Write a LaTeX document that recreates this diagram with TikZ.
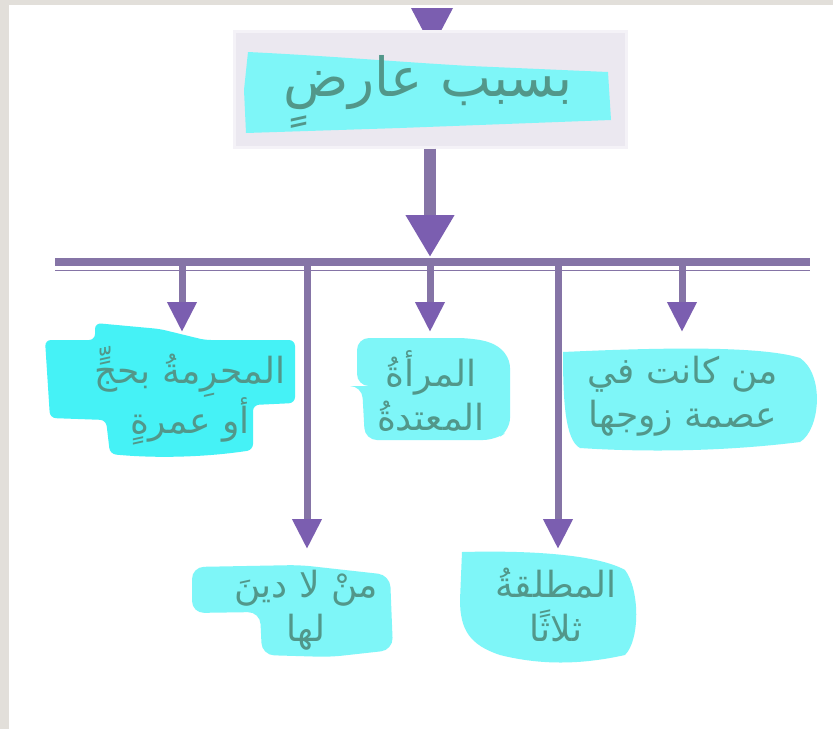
\documentclass[tikz,border=0pt]{standalone}
\usepackage{fontspec}
\usetikzlibrary{arrows.meta}
\TeXXeTstate=1
\newfontfamily\arabicfont[Script=Arabic]{DejaVu Sans}
\definecolor{bordergray}{HTML}{E2DFDA}
\definecolor{barcol}{HTML}{8574A6}
\definecolor{headcol}{HTML}{7B5EB0}
\definecolor{boxfill}{HTML}{EBE8F0}
\definecolor{boxedge}{HTML}{F4F2F7}
\definecolor{hl}{HTML}{7EF6F8}
\definecolor{hlstrong}{HTML}{45F2F6}
\definecolor{txt}{HTML}{52978A}
\tikzset{
  label/.style={font=\arabicfont\fontsize{36}{44}\selectfont, text=txt, align=center, inner sep=0pt},
  shortarrow/.style={draw=barcol, line width=7pt, -{Triangle[width=28pt,length=30pt,color=headcol]}},
  mainarrow/.style={draw=barcol, line width=12pt, -{Triangle[width=46pt,length=42pt,color=headcol]}},
}
\begin{document}
\begin{tikzpicture}[x=1pt,y=-1pt]
\useasboundingbox (0,0) rectangle (833,729);
\fill[white] (0,0) rectangle (833,729);
% page border
\fill[bordergray] (0,0) rectangle (833,5);
\fill[bordergray] (0,0) rectangle (9,729);

% top incoming arrow
\fill[headcol] (411,8) -- (453,8) -- (432,48) -- cycle;

% top box
\node[draw=boxedge, fill=boxfill, line width=3pt, minimum width=392pt, minimum height=116pt, inner sep=0pt] (top) at (430,89) {};
\fill[hl] (248,52) .. controls (330,56) and (400,62) .. (470,66) -- (608,72) -- (611,120) -- (400,128) -- (246,133) -- (244,90) -- cycle;
\node[label, font=\arabicfont\fontsize{54}{60}\selectfont] (toptext) at (428,92) {\beginR بسبب عارضٍ\endR};

% bar
\coordinate (barL) at (55,262);
\coordinate (barR) at (810,262);
\draw[barcol, line width=8pt] (barL) -- (barR);
\draw[barcol, line width=1.5pt] (55,270.5) -- (810,270.5);

% main arrow
\coordinate (mainend) at (430,257);
\draw[mainarrow] (top.south) -- (mainend);

% branch points
\coordinate (b1) at (182,266);
\coordinate (b2) at (307,266);
\coordinate (b3) at (430,266);
\coordinate (b4) at (558,266);
\coordinate (b5) at (682,266);
\coordinate (e1) at (182,332);
\coordinate (e2) at (307,549);
\coordinate (e3) at (430,332);
\coordinate (e4) at (558,549);
\coordinate (e5) at (682,332);
\draw[shortarrow] (b1) -- (e1);
\draw[shortarrow] (b2) -- (e2);
\draw[shortarrow] (b3) -- (e3);
\draw[shortarrow] (b4) -- (e4);
\draw[shortarrow] (b5) -- (e5);

% highlights
\fill[hlstrong, rounded corners=6pt] (95,323) -- (160,329) -- (205,340) -- (295,340) -- (295,403) -- (253,405) -- (253,450) .. controls (200,458) and (150,458) .. (110,454) -- (106,420) -- (50,418) -- (45,340) -- (95,340) -- cycle;
\fill[hl, rounded corners=12pt] (357,338) -- (470,338) .. controls (505,345) and (510,360) .. (510,380) -- (510,430) -- (495,440) -- (365,440) -- (362,386) -- (357,386) -- cycle;
\fill[hl] (563,352) .. controls (650,348) and (760,345) .. (800,358) .. controls (825,375) and (820,430) .. (800,442) .. controls (720,452) and (640,452) .. (580,448) .. controls (565,440) and (563,400) .. (563,352) -- cycle;
\fill[hl, rounded corners=12pt] (192,567) -- (300,565) -- (390,575) -- (393,650) -- (330,657) -- (262,655) -- (260,612) -- (192,613) -- cycle;
\fill[hl] (462,552) .. controls (540,550) and (600,556) .. (625,570) .. controls (640,590) and (640,640) .. (625,655) .. controls (580,665) and (540,665) .. (500,655) .. controls (470,645) and (460,630) .. (460,600) -- cycle;

% labels
\node[label] (l5) at (683,396) {\beginR من كانت في\endR\\\beginR عصمة زوجها\endR};
\node[label] (l3) at (431,391) {\beginR المرأةُ\endR\\\beginR المعتدةُ\endR};
\node[label] (l1) at (190,396) {\beginR المحرِمةُ بحجٍّ\endR\\\beginR أو عمرةٍ\endR};
\node[label] (l2) at (306,610) {\beginR منْ لا دينَ\endR\\\beginR لها\endR};
\node[label] (l4) at (556,605) {\beginR المطلقةُ\endR\\\beginR ثلاثًا\endR};
\end{tikzpicture}
\end{document}
